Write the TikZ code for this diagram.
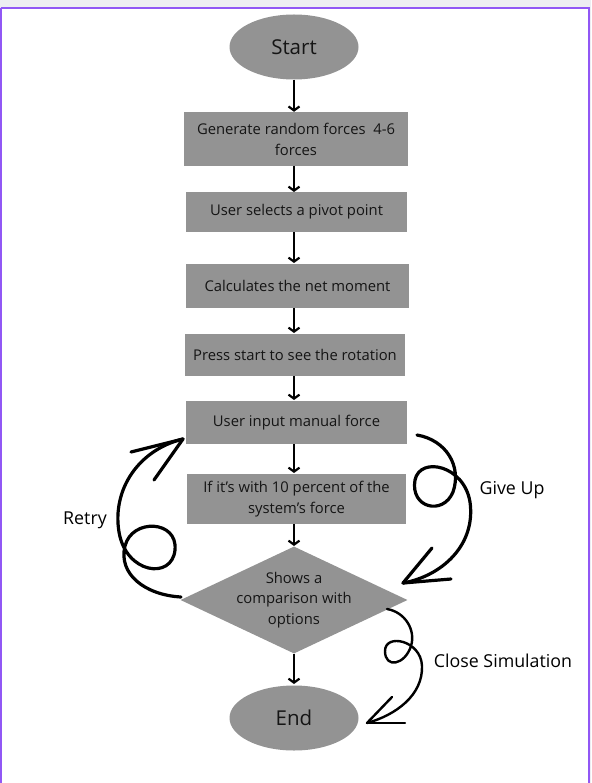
\documentclass[tikz,border=0pt]{standalone}
\usepackage{fontspec}
\setmainfont{Open Sans}
\usetikzlibrary{shapes.geometric,arrows.meta}
\definecolor{boxgray}{HTML}{939393}
\definecolor{framepurple}{HTML}{9157F5}
\definecolor{stripgray}{HTML}{EDEDF2}
\definecolor{txt}{HTML}{151515}
\tikzset{
  stepbox/.style={rectangle, fill=boxgray, inner sep=2pt, align=center, text=txt, font=\fontsize{14.8}{21}\selectfont},
  terminal/.style={ellipse, fill=boxgray, inner sep=0pt, minimum width=129pt, minimum height=65pt, text=txt, font=\fontsize{20.5}{24}\selectfont},
  flow/.style={draw=black, line width=2.2pt, -{Straight Barb[length=4pt,width=11pt]}},
  hand/.style={draw=black, line width=3.2pt, line cap=round, line join=round},
  lbl/.style={font=\fontsize{17.8}{20}\selectfont, text=black},
}
\begin{document}
\begin{tikzpicture}[x=1pt,y=-1pt]
\useasboundingbox (0,0) rectangle (591,783);
% frame
\fill[stripgray] (0,0) rectangle (591,783);
\fill[white] (1.5,9) rectangle (587.5,783);
\draw[framepurple, line width=2pt] (0.5,8) -- (590,8);
\draw[framepurple, line width=1.5pt] (0.8,8) -- (0.8,783);
\draw[framepurple, line width=2pt] (588.5,8) -- (588.5,783);

% nodes
\node[terminal] (start) at (294,47) {Start};
\node[stepbox, minimum width=224pt, minimum height=54pt] (b1) at (296,139) {Generate random forces~~4-6\\forces};
\node[stepbox, minimum width=221pt, minimum height=40pt] (b2) at (296.5,212) {User selects a pivot point};
\node[stepbox, minimum width=223pt, minimum height=44pt] (b3) at (297.5,286) {Calculates the net moment};
\node[stepbox, minimum width=220pt, minimum height=42pt] (b4) at (295,355) {Press start to see the rotation};
\node[stepbox, minimum width=221pt, minimum height=43pt] (b5) at (296.5,422.5) {User input manual force};
\node[stepbox, minimum width=219pt, minimum height=50pt] (b6) at (296.5,499) {If it’s with 10 percent of the\\system’s force};
\node[diamond, fill=boxgray, inner sep=0pt, minimum width=227pt, minimum height=107pt] (d) at (294,600) {};
\node[align=center, text=txt, font=\fontsize{14.8}{20.5}\selectfont] (dt) at (294,600) {Shows a\\comparison with\\options};
\node[terminal] (end) at (294,718) {End};

% straight arrows
\draw[flow] (start.south) -- (start.south |- b1.north);
\draw[flow] (294,166) -- (294,192);
\draw[flow] (294,232) -- (294,263);
\draw[flow] (294,308) -- (294,333);
\draw[flow] (294,376) -- (294,400);
\draw[flow] (294,444) -- (294,473);
\draw[flow] (294,524) -- (294,546);
\draw[flow] (d.south) -- (294,684);

% Retry
\coordinate (rs) at (181,597);
\coordinate (rt) at (183,439);
\draw[hand] (rs) .. controls (145,595) and (118,574) .. (125,546)
  .. controls (132,518) and (178,520) .. (175,550)
  .. controls (172,580) and (126,574) .. (119,532)
  .. controls (112,490) and (138,450) .. (rt);
\draw[hand] (rt) -- (131,452);
\draw[hand] (rt) -- (154,480);
\node[lbl] (retry) at (85,520) {Retry};

% Give Up
\coordinate (gs) at (417,435);
\coordinate (gt) at (403,583);
\draw[hand] (gs) .. controls (446,440) and (462,466) .. (453,492)
  .. controls (443,516) and (410,508) .. (415,480)
  .. controls (420,456) and (464,465) .. (470,502)
  .. controls (476,545) and (442,576) .. (gt);
\draw[hand] (gt) -- (432,548);
\draw[hand] (gt) -- (451,579);
\node[lbl] (giveup) at (512,490) {Give Up};

% Close Simulation
\coordinate (cs) at (387,609);
\coordinate (ct) at (367,723);
\draw[hand, line width=2.4pt] (cs) .. controls (405,612) and (416,630) .. (411,646)
  .. controls (405,665) and (385,669) .. (385,651)
  .. controls (385,633) and (421,640) .. (422,666)
  .. controls (423,695) and (396,715) .. (ct);
\draw[hand, line width=2.4pt] (ct) -- (392,697);
\draw[hand, line width=2.4pt] (ct) -- (405,723);
\node[lbl] (close) at (503,661) {Close Simulation};
\end{tikzpicture}
\end{document}
